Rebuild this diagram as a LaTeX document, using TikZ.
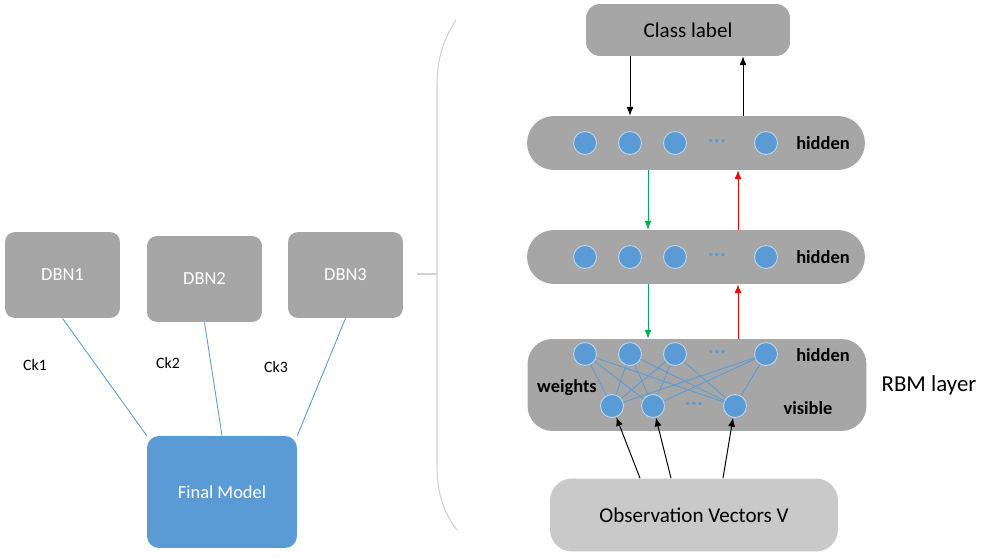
\documentclass[tikz,border=0pt]{standalone}
\usepackage{fontspec}
\setmainfont{Carlito}
\usetikzlibrary{calc,arrows.meta}

\definecolor{boxgray}{HTML}{A6A6A6}
\definecolor{obsgray}{HTML}{C9C9C9}
\definecolor{nodeblue}{HTML}{5B9BD5}
\definecolor{rimblue}{HTML}{BDD7EE}
\definecolor{upgreen}{HTML}{00B050}
\definecolor{bracegray}{HTML}{D0D0D0}

\tikzset{
	dbnbox/.style={rectangle, rounded corners=0.2cm, fill=boxgray, text=white,
		minimum width=2.3cm, minimum height=1.72cm, font=\fontsize{10.5}{12}\selectfont},
	layer/.style={rectangle, fill=boxgray, minimum width=6.76cm},
	unit/.style={circle, fill=nodeblue, draw=rimblue, line width=0.5pt,
		minimum size=0.46cm, inner sep=0pt},
	tag/.style={font=\fontsize{10.5}{12}\selectfont\bfseries},
	wline/.style={draw=nodeblue, line width=0.5pt},
	dots/.style={text=nodeblue, font=\fontsize{13}{14}\selectfont\bfseries},
	arr/.style={-{Latex[length=5pt,width=4pt]}, line width=0.55pt},
}

\begin{document}
\begin{tikzpicture}[x=0.02cm, y=-0.02cm]
	\useasboundingbox (0,0) rectangle (992,557);

	% Left side: DBNs and final model.
	\node[dbnbox] (dbn1) at (62.5,275) {DBN1};
	\node[dbnbox] (dbn2) at (204.5,279) {DBN2};
	\node[dbnbox] (dbn3) at (345.5,275) {DBN3};
	\node[rectangle, rounded corners=0.24cm, fill=nodeblue, text=white,
		minimum width=3cm, minimum height=2.24cm,
		font=\fontsize{10.5}{12}\selectfont] (final) at (222,492) {Final Model};

	\node[font=\fontsize{9}{11}\selectfont] (ck1) at (35,365) {Ck1};
	\node[font=\fontsize{9}{11}\selectfont] (ck2) at (168,363) {Ck2};
	\node[font=\fontsize{9}{11}\selectfont] (ck3) at (276,367) {Ck3};

	\draw[wline] (dbn1.south) -- (final.north west);
	\draw[wline] (dbn2.south) -- (final.north);
	\draw[wline] (dbn3.south) -- (final.north east);

	% Brace.
	\draw[bracegray, line width=0.6pt] (456,20) .. controls (443,40) and (437,60) .. (437,85)
		-- (437,465) .. controls (437,492) and (443,512) .. (457,530);
	\draw[bracegray, line width=0.6pt] (417,274) -- (437,274);

	% Right side: layers.
	\node[rectangle, rounded corners=0.28cm, fill=boxgray, minimum width=4.08cm,
		minimum height=1.04cm, font=\fontsize{12}{14}\selectfont] (cls) at (688,30) {Class label};
	\node[layer, rounded corners=0.54cm, minimum height=1.08cm] (h1) at (696,143) {};
	\node[layer, rounded corners=0.54cm, minimum height=1.08cm] (h2) at (696,257) {};
	\node[layer, rounded corners=0.5cm, minimum width=6.78cm, minimum height=1.84cm] (rbm) at (697,385) {};
	\node[rectangle, rounded corners=0.44cm, fill=obsgray, minimum width=5.76cm,
		minimum height=1.46cm, font=\fontsize{12}{14}\selectfont] (obs) at (694,515) {Observation Vectors V};

	% Units.
	\foreach \x [count=\i] in {585,630,675,766} {
		\node[unit] (ha\i) at (\x,143) {};
		\node[unit] (hb\i) at (\x,257) {};
		\node[unit] (rh\i) at (\x,354) {};
	}
	\foreach \x [count=\i] in {612,653,735}
		\node[unit] (rv\i) at (\x,406) {};
	\foreach \a in {1,...,4}
		\foreach \b in {1,2,3}
			\draw[wline] (rh\a) -- (rv\b);

	\node[dots] (dota) at (717,141) {...};
	\node[dots] (dotb) at (717,255) {...};
	\node[dots] (dotc) at (717,352) {...};
	\node[dots] (dotd) at (694,404) {...};

	% Labels.
	\node[tag] (ta) at (823,143) {hidden};
	\node[tag] (tb) at (823,257) {hidden};
	\node[tag] (tc) at (823,355) {hidden};
	\node[tag] (tv) at (808,408) {visible};
	\node[tag] (tw) at (567,388) {weights};
	\node[font=\fontsize{13}{15}\selectfont] (rbmtag) at (929,385) {RBM layer};

	% Arrows.
	\coordinate (down) at (648,0);
	\coordinate (up) at (738,0);
	\coordinate (top) at (743,0);
	\draw[arr] (cls.south -| ha2) -- (h1.north -| ha2);
	\draw[arr] (h1.north -| top) -- (cls.south -| top);
	\draw[arr, upgreen] (h1.south -| down) -- (h2.north -| down);
	\draw[arr, red] (h2.north -| up) -- (h1.south -| up);
	\draw[arr, upgreen] (h2.south -| down) -- (rbm.north -| down);
	\draw[arr, red] (rbm.north -| up) -- (h2.south -| up);
	\draw[arr] ($(obs.north)+(-54,0)$) -- (rv1);
	\draw[arr] ($(obs.north)+(-23,0)$) -- (rv2);
	\draw[arr] ($(obs.north)+(29,0)$) -- (rv3);

\end{tikzpicture}
\end{document}
